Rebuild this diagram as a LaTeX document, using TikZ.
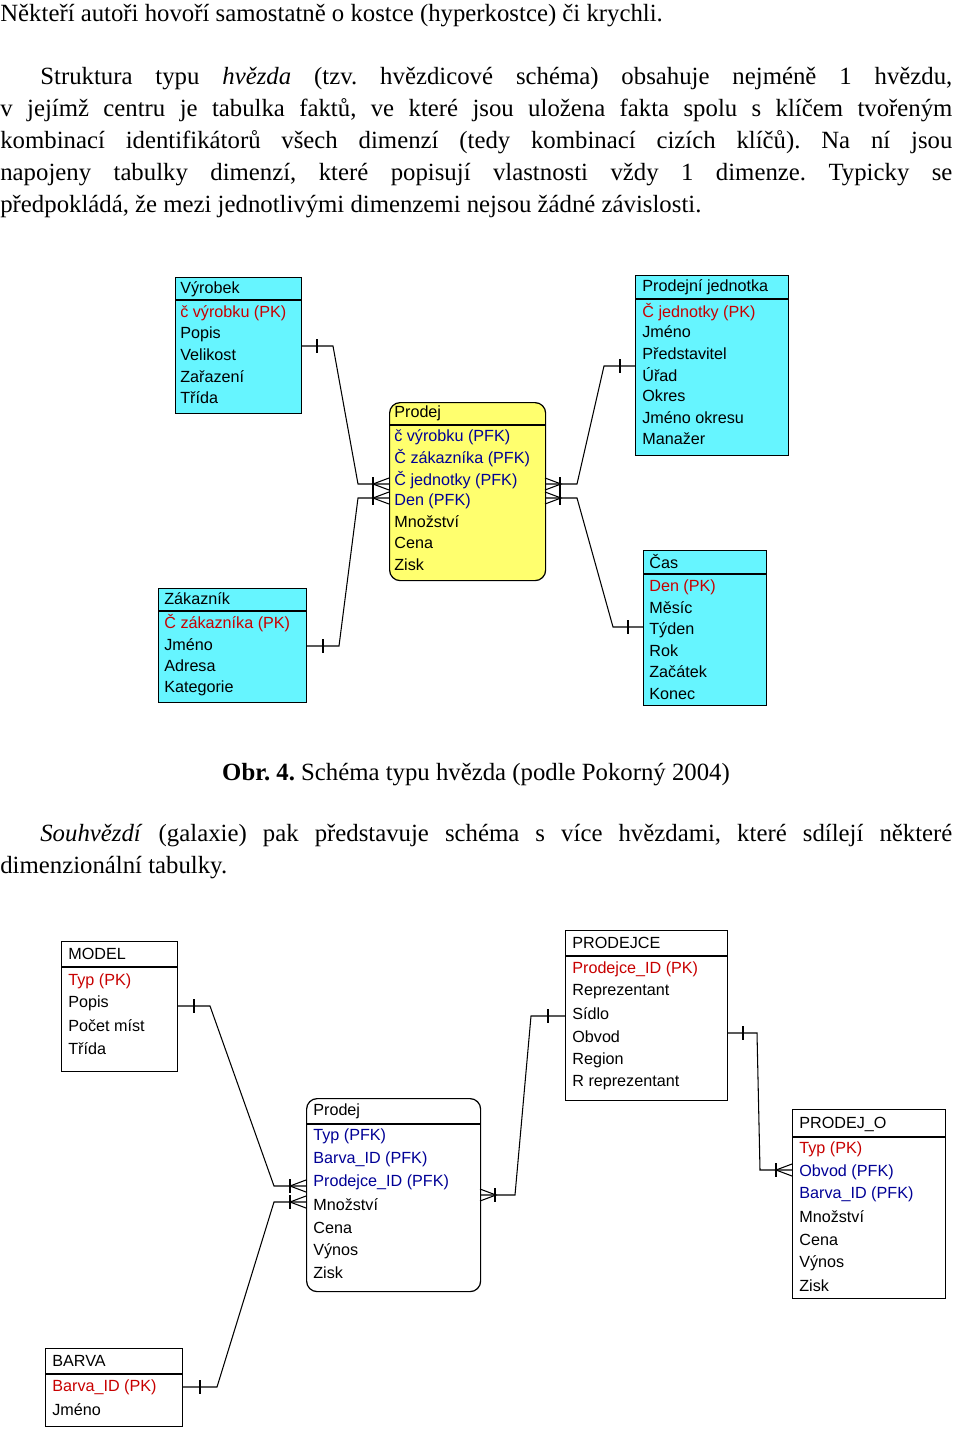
\documentclass[tikz,border=0pt]{standalone}
\usepackage{fontspec}
\setmainfont{Liberation Serif}
\newfontfamily\dia{Liberation Sans}
\definecolor{cy}{RGB}{102,245,255}
\definecolor{ye}{RGB}{255,255,110}
\definecolor{pk}{RGB}{200,0,0}
\definecolor{pfk}{RGB}{0,0,150}
\frenchspacing
\begin{document}
\begin{tikzpicture}[x=0.02cm,y=-0.02cm,
  body/.style={anchor=base west,inner sep=0pt,font=\fontsize{14.1}{16}\selectfont},
  jl/.style={body,text width=#1*0.02cm,align=justify},
  tb/.style={draw,line width=0.7pt,anchor=north west,inner sep=0pt},
  it/.style={anchor=west,inner sep=0pt,font=\dia\fontsize{9.2}{10}\selectfont},
  ln/.style={line width=0.6pt}]
\useasboundingbox (0,0) rectangle (960,1456);
% ---- body text
\node[body] (t1) at (0,22) {Někteří autoři hovoří samostatně o kostce (hyperkostce) či krychli.};
\node[jl=912] (t2) at (40,85) {\parfillskip=0pt Struktura typu \textit{hvězda} (tzv. hvězdicové schéma) obsahuje nejméně 1 hvězdu,\par};
\node[jl=952] (t3) at (0,117) {\parfillskip=0pt v jejímž centru je tabulka faktů, ve které jsou uložena fakta spolu s klíčem tvořeným\par};
\node[jl=952] (t4) at (0,149) {\parfillskip=0pt kombinací identifikátorů všech dimenzí (tedy kombinací cizích klíčů). Na ní jsou\par};
\node[jl=952] (t5) at (0,181) {\parfillskip=0pt napojeny tabulky dimenzí, které popisují vlastnosti vždy 1 dimenze. Typicky se\par};
\node[body] (t6) at (0,213) {předpokládá, že mezi jednotlivými dimenzemi nejsou žádné závislosti.};
\node[body,anchor=base] (cap) at (476,780) {\textbf{Obr. 4.} Schéma typu hvězda (podle Pokorný 2004)};
\node[jl=912] (t7) at (40,841) {\parfillskip=0pt \textit{Souhvězdí} (galaxie) pak představuje schéma s více hvězdami, které sdílejí některé\par};
\node[body] (t8) at (0,873) {dimenzionální tabulky.};
% ---- top diagram tables
\newcommand\tabl[8]{% name x1 y1 x2 y2 fill headerline rounded
  \node[tb,fill=#6,minimum width={(#4-#2)*0.02cm},minimum height={(#5-#3)*0.02cm},#8] (#1) at (#2,#3) {};
  \draw[line width=0.7pt] (#2,#7) -- (#4,#7);}
\tabl{vyr}{175}{277}{301}{413}{cy}{300}{}
\tabl{pj}{635}{275}{788}{455}{cy}{299}{}
\tabl{pro}{389}{402}{545}{580}{ye}{425}{rounded corners=6pt}
\tabl{zak}{158}{588}{306}{702}{cy}{611}{}
\tabl{cas}{643}{550}{766}{705}{cy}{574}{}
\node[it] at (180,289) {Výrobek};
\node[it,text=pk] at (180,313) {č výrobku (PK)};
\foreach \t/\y in {Popis/334,Velikost/355,Zařazení/377,Třída/398} \node[it] at (180,\y) {\t};
\node[it] at (642,287) {Prodejní jednotka};
\node[it,text=pk] at (642,312) {Č jednotky (PK)};
\foreach \t/\y in {Jméno/332,Představitel/354,Úřad/375,Okres/396,Jméno okresu/418,Manažer/439} \node[it] at (642,\y) {\t};
\node[it] at (394,413) {Prodej};
\foreach \t/\y in {č výrobku (PFK)/437,Č zákazníka (PFK)/458,Č jednotky (PFK)/480,Den (PFK)/501} \node[it,text=pfk] at (394,\y) {\t};
\foreach \t/\y in {Množství/522,Cena/543,Zisk/565} \node[it] at (394,\y) {\t};
\node[it] at (164,599) {Zákazník};
\node[it,text=pk] at (164,623) {Č zákazníka (PK)};
\foreach \t/\y in {Jméno/645,Adresa/666,Kategorie/688} \node[it] at (164,\y) {\t};
\node[it] at (649,562) {Čas};
\node[it,text=pk] at (649,587) {Den (PK)};
\foreach \t/\y in {Měsíc/608,Týden/630,Rok/651,Začátek/672,Konec/694} \node[it] at (649,\y) {\t};
% connectors top
\draw[ln] (vyr.east |- 0,346) -- (333,346) -- (358,484) -- (pro.west |- 0,484);
\draw[ln] (zak.east |- 0,646) -- (339,646) -- (358,498) -- (pro.west |- 0,498);
\draw[ln] (pj.west |- 0,366) -- (604,366) -- (577,484) -- (pro.east |- 0,484);
\draw[ln] (cas.west |- 0,627) -- (613,627) -- (577,498) -- (pro.east |- 0,498);
\foreach \x/\y in {317/346,323/646,620/366,628/627,373/484,373/498,560/484,560/498} \draw[ln] (\x,\y-7) -- (\x,\y+7);
\foreach \y in {484,498} {\draw[ln] (389,\y-6) -- (373,\y) -- (389,\y+6); \draw[ln] (545,\y-6) -- (561,\y) -- (545,\y+6);}
% ---- bottom diagram
\tabl{mod}{61}{941}{177}{1071}{white}{967}{}
\tabl{pdc}{565}{930}{727}{1100}{white}{956}{}
\tabl{prb}{306}{1098}{480}{1291}{white}{1124}{rounded corners=6pt}
\tabl{po}{792}{1109}{945}{1298}{white}{1137}{}
\tabl{bar}{45}{1348}{182}{1426}{white}{1374}{}
\node[it] at (68,954) {MODEL};
\node[it,text=pk] at (68,981) {Typ (PK)};
\foreach \t/\y in {Popis/1003,Počet míst/1026,Třída/1049} \node[it] at (68,\y) {\t};
\node[it] at (572,943) {PRODEJCE};
\node[it,text=pk] at (572,969) {Prodejce\_ID (PK)};
\foreach \t/\y in {Reprezentant/992,Sídlo/1014,Obvod/1037,Region/1060,R reprezentant/1083} \node[it] at (572,\y) {\t};
\node[it] at (313,1111) {Prodej};
\foreach \t/\y in {Typ (PFK)/1136,Barva\_ID (PFK)/1159,Prodejce\_ID (PFK)/1182} \node[it,text=pfk] at (313,\y) {\t};
\foreach \t/\y in {Množství/1205,Cena/1228,Výnos/1251,Zisk/1273} \node[it] at (313,\y) {\t};
\node[it] at (799,1124) {PRODEJ\_O};
\node[it,text=pk] at (799,1149) {Typ (PK)};
\foreach \t/\y in {Obvod\ (PFK)/1172,Barva\_ID (PFK)/1194} \node[it,text=pfk] at (799,\y) {\t};
\foreach \t/\y in {Množství/1217,Cena/1240,Výnos/1263,Zisk/1286} \node[it] at (799,\y) {\t};
\node[it] at (52,1361) {BARVA};
\node[it,text=pk] at (52,1387) {Barva\_ID (PK)};
\node[it] at (52,1410) {Jméno};
% connectors bottom
\draw[ln] (mod.east |- 0,1006) -- (210,1006) -- (274,1186) -- (prb.west |- 0,1186);
\draw[ln] (bar.east |- 0,1387) -- (217,1387) -- (274,1202) -- (prb.west |- 0,1202);
\draw[ln] (prb.east |- 0,1195) -- (515,1195) -- (531,1016) -- (pdc.west |- 0,1016);
\draw[ln] (pdc.east |- 0,1033) -- (757,1033) -- (760,1170) -- (po.west |- 0,1170);
\foreach \x/\y in {194/1006,200/1387,548/1016,743/1033,290/1186,290/1202,495/1195,776/1170} \draw[ln] (\x,\y-7) -- (\x,\y+7);
\foreach \y in {1186,1202} \draw[ln] (306,\y-6) -- (290,\y) -- (306,\y+6);
\draw[ln] (480,1189) -- (496,1195) -- (480,1201);
\draw[ln] (792,1164) -- (776,1170) -- (792,1176);
\end{tikzpicture}
\end{document}
